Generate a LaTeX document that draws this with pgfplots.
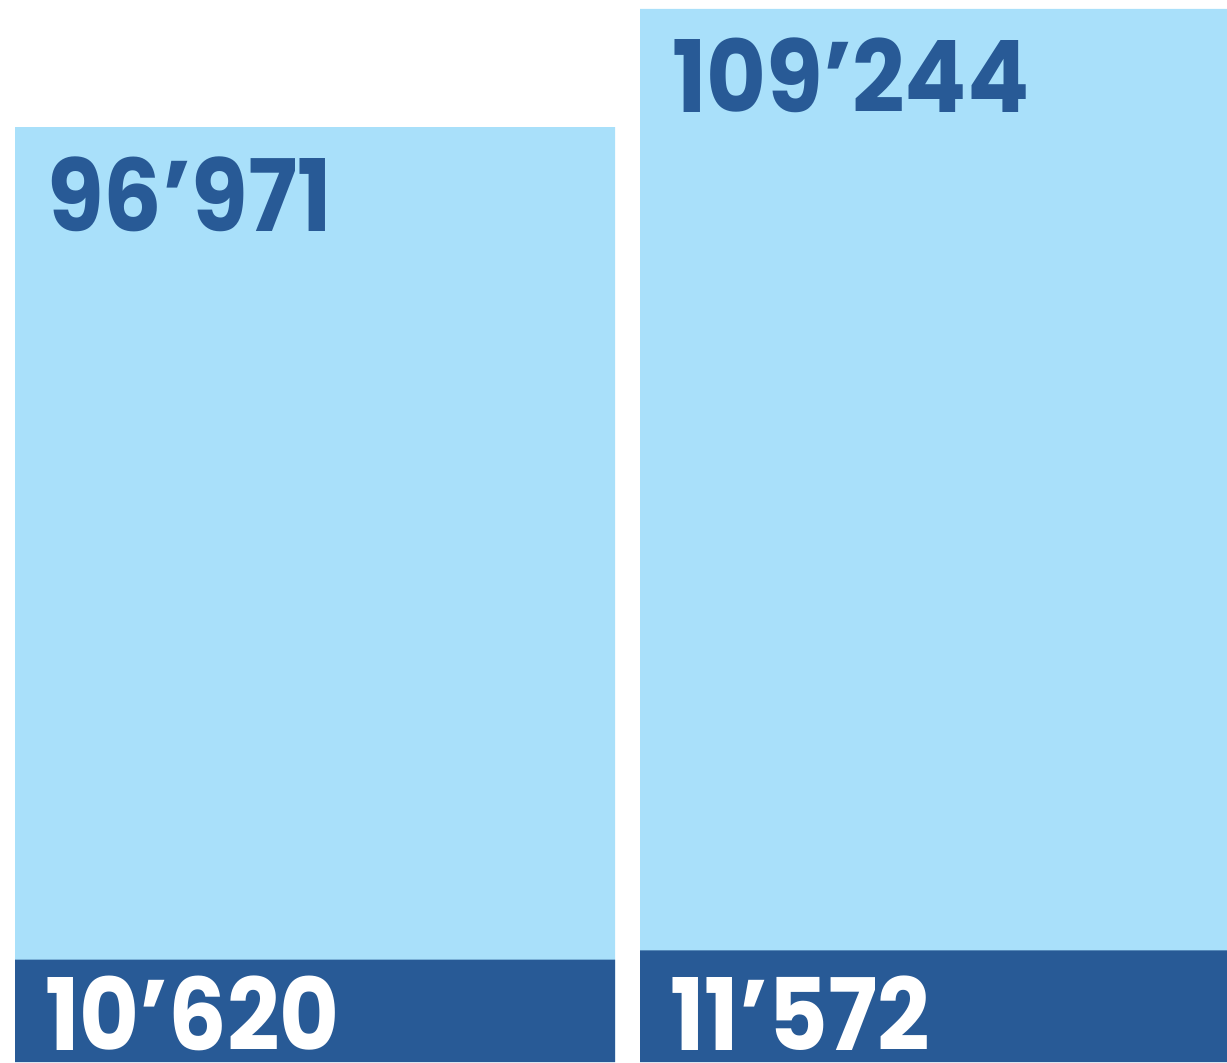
\documentclass[border=0pt]{standalone}
\usepackage{pgfplots}
\pgfplotsset{compat=1.18}
\usepackage{fontspec}
\setmainfont{Poppins}[FakeStretch=0.92]
\definecolor{lightbar}{HTML}{A9E0FA}
\definecolor{darkbar}{HTML}{285A96}
\begin{document}
\begin{tikzpicture}
\begin{axis}[
  width=613.5pt, height=531pt, scale only axis,
  xmin=0, xmax=1227, ymin=0, ymax=110172,
  hide axis,
  ybar, bar width=600, bar shift=0pt,
  clip=true,
  every node near coord/.style={font=\fontsize{50}{50}\selectfont\bfseries, anchor=base west, inner sep=0pt},
]
% light bars: totals
\addplot[fill=lightbar, draw=none, nodes near coords, point meta=explicit symbolic,
  every node near coord/.append style={text=darkbar, xshift=-134pt, yshift=-52pt}]
  coordinates {(315,96971)[96’971] (940,109244)[109’244]};
% dark bars: part
\addplot[fill=darkbar, draw=none] coordinates {(315,10620) (940,11572)};
% labels of the dark part, set from the base of the bars
\addplot[draw=none, fill=none, nodes near coords, point meta=explicit symbolic,
  every node near coord/.append style={text=white, xshift=-135pt, yshift=6pt}]
  coordinates {(315,0)[10’620] (940,0)[11’572]};
\end{axis}
\pgfresetboundingbox
\path (current axis.south west) rectangle (current axis.north east);
\end{tikzpicture}
\end{document}
